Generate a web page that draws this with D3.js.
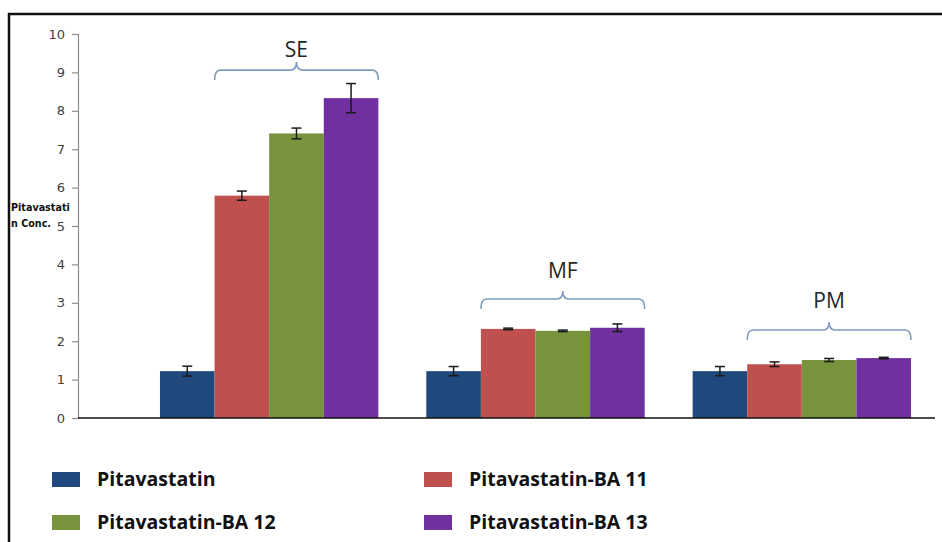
<!DOCTYPE html>
<html>
<head>
<meta charset="utf-8">
<script src="https://cdn.jsdelivr.net/npm/d3@7"></script>
<style>
  html, body { margin: 0; padding: 0; background: #fff; }
  svg { display: block; }
</style>
</head>
<body>
<svg id="chart" width="942" height="542"></svg>
<script>
// Formulation groups and series
const categories = ["SE", "MF", "PM"];
const seriesNames = ["Pitavastatin", "Pitavastatin-BA 11", "Pitavastatin-BA 12", "Pitavastatin-BA 13"];
const seriesColors = ["#1f497d", "#c0504d", "#77933c", "#7030a0"];

// Mean concentration per group
const pitavastatin = [1.22, 1.22, 1.22];
const pitavastatinBA11 = [5.79, 2.32, 1.40];
const pitavastatinBA12 = [7.41, 2.27, 1.51];
const pitavastatinBA13 = [8.33, 2.35, 1.56];

// Error (±) per group
const errPitavastatin = [0.13, 0.12, 0.12];
const errBA11 = [0.12, 0.02, 0.06];
const errBA12 = [0.14, 0.02, 0.04];
const errBA13 = [0.38, 0.10, 0.02];

// Y axis ticks
const yTicks = [0, 1, 2, 3, 4, 5, 6, 7, 8, 9, 10];
const yLabelLines = ["Pitavastati", "n Conc."];

// Brace height and label height per group (data units)
const braceLevels = [9.06, 3.1, 2.29];
const braceLabelLevels = [9.40, 3.65, 2.86];

const seriesValues = [pitavastatin, pitavastatinBA11, pitavastatinBA12, pitavastatinBA13];
const seriesErrors = [errPitavastatin, errBA11, errBA12, errBA13];

const svg = d3.select("#chart");

// Outer frame (open to the right and bottom)
svg.append("rect")
  .attr("x", 9).attr("y", 14)
  .attr("width", 1000).attr("height", 600)
  .attr("fill", "none").attr("stroke", "#111").attr("stroke-width", 2.5);

const axisX = 78, plotRight = 935;
const y = d3.scaleLinear().domain([0, 10]).range([418, 34]);
const x0 = d3.scaleBand().domain(categories).range([136, 935])
  .paddingInner(0.18).paddingOuter(0.09);
const x1 = d3.scaleBand().domain(seriesNames).range([0, x0.bandwidth()]).padding(0);

// Y axis
const yAxis = d3.axisLeft(y).tickValues(yTicks).tickSize(6).tickPadding(7).tickFormat(d3.format("d"));
const gy = svg.append("g").attr("transform", `translate(${axisX},0)`).call(yAxis);
gy.select(".domain").attr("stroke", "#8c8c8c").attr("stroke-width", 1.2);
gy.selectAll(".tick line").attr("stroke", "#8c8c8c").attr("stroke-width", 1.2);
gy.selectAll(".tick text")
  .attr("fill", "#404040")
  .style("font-family", "'DejaVu Sans', sans-serif")
  .style("font-size", "13px");

// Y axis title (two lines)
svg.append("g").selectAll("text").data(yLabelLines).join("text")
  .attr("x", 11)
  .attr("y", (d, i) => 211 + i * 16)
  .attr("fill", "#111")
  .style("font-family", "'DejaVu Sans', sans-serif")
  .style("font-size", "9.6px")
  .style("font-weight", "bold")
  .text(d => d);

// Bars
const groups = svg.append("g").selectAll("g").data(categories).join("g")
  .attr("transform", d => `translate(${x0(d)},0)`);

groups.selectAll("rect")
  .data((c, ci) => seriesNames.map((s, si) => ({ s, si, v: seriesValues[si][ci] })))
  .join("rect")
  .attr("x", d => x1(d.s))
  .attr("y", d => y(d.v))
  .attr("width", x1.bandwidth())
  .attr("height", d => y(0) - y(d.v))
  .attr("fill", d => seriesColors[d.si]);

// Error bars
const errData = [];
categories.forEach((c, ci) => {
  seriesNames.forEach((s, si) => {
    errData.push({
      cx: x0(c) + x1(s) + x1.bandwidth() / 2,
      v: seriesValues[si][ci],
      e: seriesErrors[si][ci]
    });
  });
});
const eg = svg.append("g").attr("stroke", "#1a1a1a").attr("stroke-width", 1.5);
errData.forEach(d => {
  eg.append("line").attr("x1", d.cx).attr("x2", d.cx).attr("y1", y(d.v + d.e)).attr("y2", y(d.v - d.e));
  eg.append("line").attr("x1", d.cx - 5).attr("x2", d.cx + 5).attr("y1", y(d.v + d.e)).attr("y2", y(d.v + d.e));
  eg.append("line").attr("x1", d.cx - 5).attr("x2", d.cx + 5).attr("y1", y(d.v - d.e)).attr("y2", y(d.v - d.e));
});

// X axis baseline
svg.append("line")
  .attr("x1", axisX).attr("x2", plotRight)
  .attr("y1", y(0)).attr("y2", y(0))
  .attr("stroke", "#111").attr("stroke-width", 1.5);

// Curly braces over the BA series of each group
function bracePath(xa, xb, yh) {
  const drop = 10, tip = 8, r = 6;
  const xm = (xa + xb) / 2;
  return `M${xa},${yh + drop}` +
    `Q${xa},${yh} ${xa + r},${yh}` +
    `L${xm - r},${yh}` +
    `Q${xm},${yh} ${xm},${yh - tip}` +
    `Q${xm},${yh} ${xm + r},${yh}` +
    `L${xb - r},${yh}` +
    `Q${xb},${yh} ${xb},${yh + drop}`;
}
const braces = svg.append("g");
categories.forEach((c, ci) => {
  const xa = x0(c) + x1(seriesNames[1]);
  const xb = x0(c) + x1(seriesNames[3]) + x1.bandwidth();
  braces.append("path")
    .attr("d", bracePath(xa, xb, y(braceLevels[ci])))
    .attr("fill", "none")
    .attr("stroke", "#7f9bbd")
    .attr("stroke-width", 1.6);
  braces.append("text")
    .attr("x", (xa + xb) / 2)
    .attr("y", y(braceLabelLevels[ci]))
    .attr("text-anchor", "middle")
    .attr("fill", "#262626")
    .style("font-family", "'Open Sans', sans-serif")
    .style("font-size", "21px")
    .text(c);
});

// Legend (2 x 2)
const legend = svg.append("g");
const legendPos = [[52, 472], [424, 472], [52, 515], [424, 515]];
seriesNames.forEach((s, i) => {
  const [lx, ly] = legendPos[i];
  legend.append("rect")
    .attr("x", lx).attr("y", ly)
    .attr("width", 28).attr("height", 15)
    .attr("fill", seriesColors[i]);
  legend.append("text")
    .attr("x", lx + 45).attr("y", ly + 14)
    .attr("fill", "#111")
    .style("font-family", "'Open Sans', sans-serif")
    .style("font-size", "19.5px")
    .style("font-weight", "bold")
    .text(s);
});
</script>
</body>
</html>
